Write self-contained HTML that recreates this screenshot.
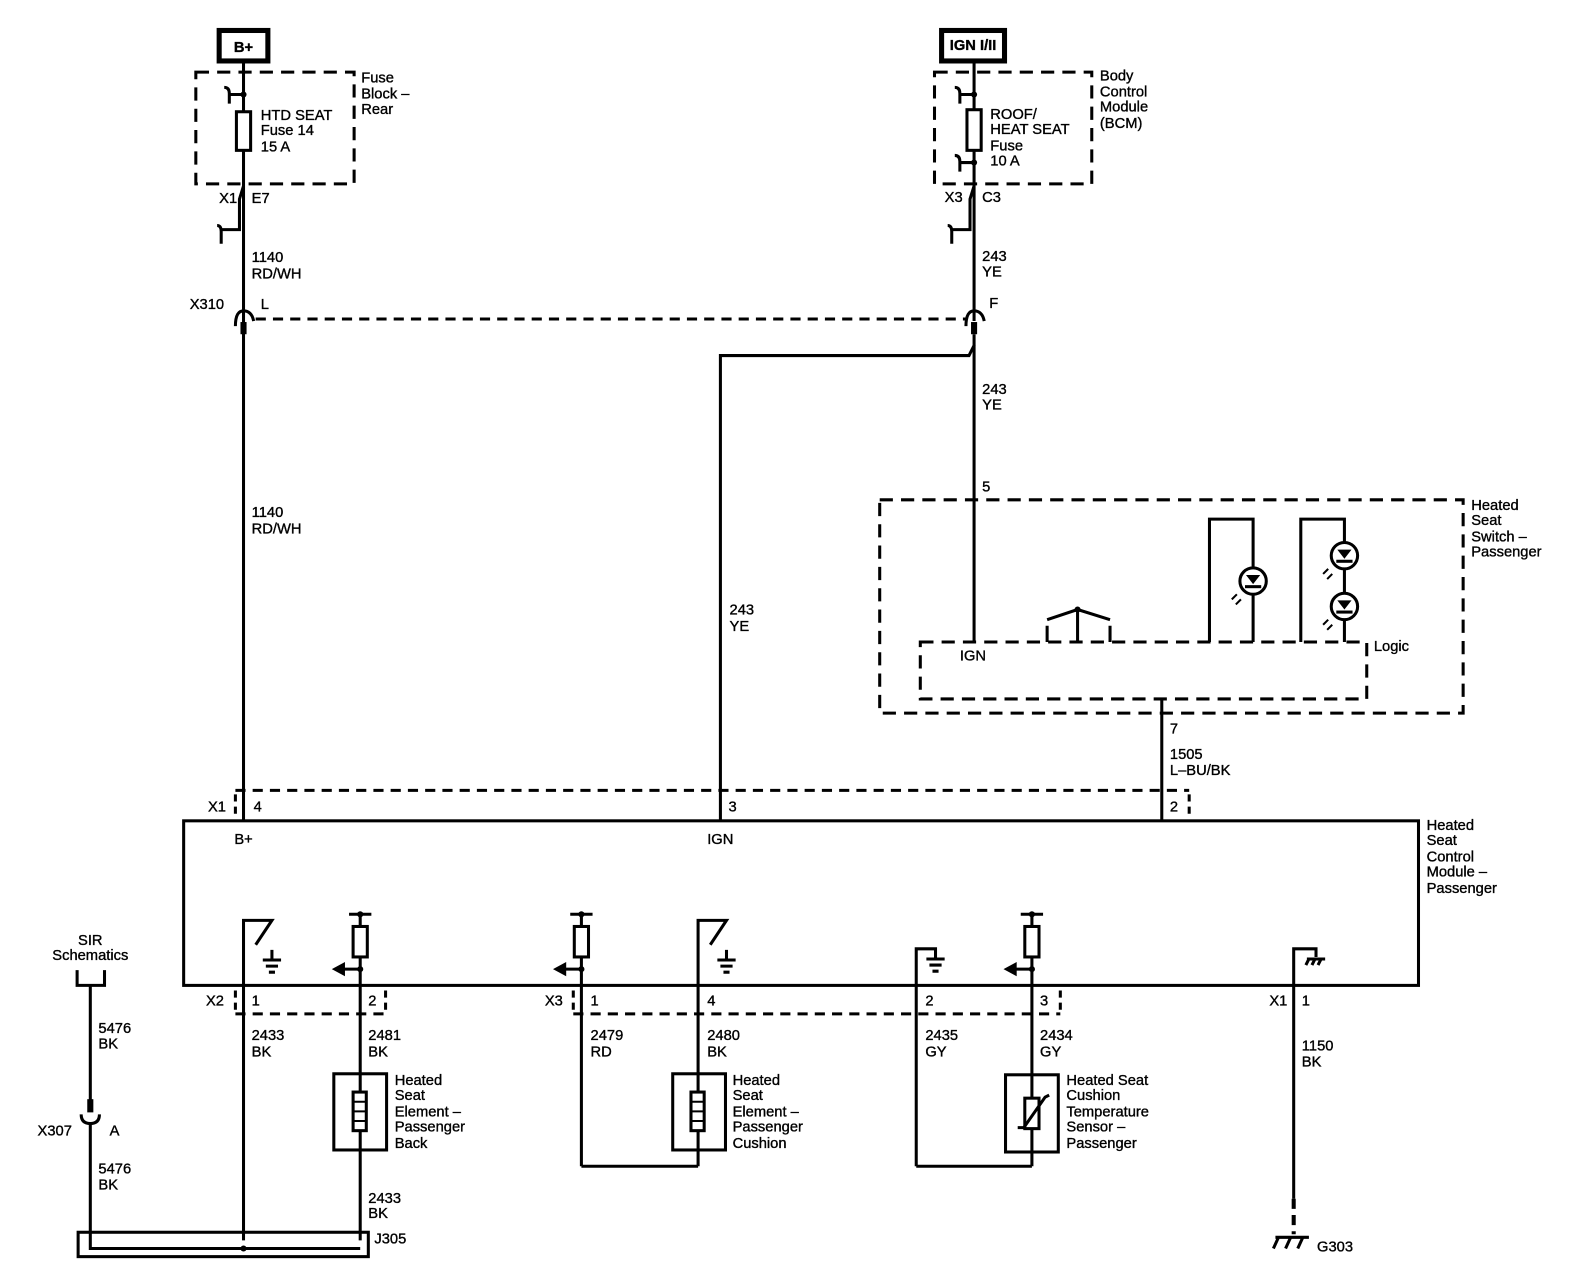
<!DOCTYPE html>
<html><head><meta charset="utf-8"><style>
html,body{margin:0;padding:0;background:#fff;}
svg{display:block;}
text{font-family:"Liberation Sans",Arial,sans-serif;font-size:14.5px;fill:#000;stroke:#000;stroke-width:0.35px;}
</style></head><body>
<svg width="1592" height="1280" viewBox="0 0 1569 1260" preserveAspectRatio="none" xmlns="http://www.w3.org/2000/svg">
<g fill="none" stroke="#000" stroke-width="3">
<rect x="216" y="30" width="48" height="30" stroke-width="5"/>
<line x1="240" y1="60" x2="240" y2="808"/>
<rect x="193" y="71" width="156" height="110" stroke-dasharray="13 8"/>
<rect x="233" y="110" width="14" height="38" fill="#fff"/>
<path d="M240 93 H226 M221 86 Q226 86 226 92 V102"/>
<path d="M240 183 L236 196 V226 H218 M214 222 Q218 222 218 228 V240"/>
<path d="M232 321 Q232 306 240 306 Q248 306 250 316"/>
<rect x="237" y="317" width="6" height="12" fill="#000" stroke="none"/>
<line x1="252" y1="314" x2="952" y2="314" stroke-dasharray="10 7"/>
<rect x="928" y="30" width="62" height="30" stroke-width="5"/>
<line x1="960" y1="60" x2="960" y2="316"/>
<rect x="921" y="71" width="155" height="110" stroke-dasharray="13 8"/>
<rect x="953" y="108" width="14" height="40" fill="#fff"/>
<path d="M960 93 H946 M941 86 Q946 86 946 92 V102"/>
<path d="M960 160 H946 M941 153 Q946 153 946 159 V169"/>
<path d="M960 183 L956 196 V226 H938 M934 222 Q938 222 938 228 V240"/>
<path d="M952 321 Q952 306 960 306 Q968 306 970 316"/>
<rect x="957" y="317" width="6" height="12" fill="#000" stroke="none"/>
<path d="M960 329 V340 L955 350 H710 V808"/>
<line x1="960" y1="340" x2="960" y2="632"/>
<rect x="867" y="492" width="575" height="210" stroke-dasharray="13 8"/>
<rect x="907" y="632" width="440" height="56" stroke-dasharray="13 8"/>
<path d="M1032 632 V616 M1094 632 V616 M1062 632 V600 M1032 610 L1062 600 L1094 610"/>
<path d="M1192 632 V511 H1235 V632"/>
<path d="M1282 632 V511 H1325 V632"/>
<circle cx="1235" cy="572" r="13" fill="#fff"/>
<circle cx="1325" cy="547" r="13" fill="#fff"/>
<circle cx="1325" cy="597" r="13" fill="#fff"/>
<path d="M1219 585 l-5 5 M1223 590 l-5 5 M1309 560 l-5 5 M1313 565 l-5 5 M1309 610 l-5 5 M1313 615 l-5 5" stroke-width="2"/>
<line x1="1145" y1="688" x2="1145" y2="808"/>
<path d="M232 782 V805 M1172 782 V805" stroke-dasharray="7 5"/>
<line x1="232" y1="778" x2="1172" y2="778" stroke-dasharray="10 7"/>
<rect x="181" y="808" width="1217" height="162"/>
<path d="M240 1221 V906 H268 L252 930"/>
<path d="M688 1148 V906 H716 L700 930"/>
<path d="M355 1221 V900 M344 900 H366"/>
<path d="M573 1148 V900 M562 900 H584"/>
<path d="M1017 1148 V900 M1006 900 H1028"/>
<rect x="348" y="912" width="14" height="30" fill="#fff"/>
<rect x="566" y="912" width="14" height="30" fill="#fff"/>
<rect x="1010" y="912" width="14" height="30" fill="#fff"/>
<path d="M355 954 H338 M573 954 H556 M1017 954 H1000"/>
<path d="M268 935 V945 M259 945 H277 M262 951 H274 M265 957 H271"/>
<path d="M716 935 V945 M707 945 H725 M710 951 H722 M713 957 H719"/>
<path d="M903 1148 V934 H922 V944 M913 944 H931 M916 950 H928 M919 956 H925"/>
<path d="M903 1148 H1017 M573 1148 H688"/>
<path d="M1275 1180 V934 H1297 V942 M1288 944 H1306 M1290 944 l-3 6 M1296 944 l-3 6 M1302 944 l-3 6"/>
<line x1="1275" y1="1180" x2="1275" y2="1215" stroke-dasharray="10 6" stroke-width="4"/>
<path d="M1257 1218 H1290 M1260 1218 l-5 11 M1272 1218 l-5 11 M1284 1218 l-5 11"/>
<path d="M232 975 V998 M380 975 V998 M565 975 V998 M1045 975 V998" stroke-dasharray="7 5"/>
<line x1="232" y1="998" x2="380" y2="998" stroke-dasharray="10 7"/>
<line x1="565" y1="998" x2="1045" y2="998" stroke-dasharray="10 7"/>
<rect x="329" y="1057" width="52" height="75" fill="#fff"/>
<line x1="355" y1="1057" x2="355" y2="1132"/>
<rect x="348" y="1075" width="13" height="38" fill="#fff"/>
<path d="M348 1084.5 H361 M348 1094 H361 M348 1103.5 H361" stroke-width="2"/>
<rect x="663" y="1057" width="52" height="75" fill="#fff"/>
<line x1="688" y1="1057" x2="688" y2="1132"/>
<rect x="681" y="1075" width="13" height="38" fill="#fff"/>
<path d="M681 1084.5 H694 M681 1094 H694 M681 1103.5 H694" stroke-width="2"/>
<rect x="991" y="1058" width="52" height="76"/>
<rect x="1010" y="1081" width="14" height="30" fill="#fff"/>
<path d="M1003 1110 H1009 L1030 1080 L1034 1078"/>
<path d="M76 955 V970 H103 V955"/>
<line x1="89" y1="970" x2="89" y2="1084"/>
<rect x="86" y="1082" width="6" height="13" fill="#000" stroke="none"/>
<path d="M80 1097 Q80 1106 89 1106 Q98 1106 98 1097"/>
<path d="M89 1106 V1229 H355"/>
<rect x="77" y="1213" width="286" height="24"/>
</g>
<g fill="#000">
<circle cx="240" cy="93" r="3"/>
<circle cx="960" cy="93" r="3"/><circle cx="960" cy="160" r="3"/>
<circle cx="355" cy="900" r="3"/><circle cx="573" cy="900" r="3"/><circle cx="1017" cy="900" r="3"/>
<circle cx="355" cy="954" r="3"/><circle cx="573" cy="954" r="3"/><circle cx="1017" cy="954" r="3"/>
<circle cx="1062" cy="600" r="3"/>
<circle cx="240" cy="1229" r="3"/>
<polygon points="327,954 340,947 340,961"/><polygon points="545,954 558,947 558,961"/><polygon points="989,954 1002,947 1002,961"/>
<polygon points="1228,566 1242,566 1235,575"/><rect x="1227" y="576" width="16" height="3"/>
<polygon points="1318,541 1332,541 1325,550"/><rect x="1317" y="551" width="16" height="3"/>
<polygon points="1318,591 1332,591 1325,600"/><rect x="1317" y="601" width="16" height="3"/>
</g>
<g>
<text x="240" y="51" text-anchor="middle" font-weight="bold">B+</text>
<text x="356" y="81">Fuse</text><text x="356" y="97">Block –</text><text x="356" y="112">Rear</text>
<text x="257" y="118">HTD SEAT</text><text x="257" y="133">Fuse 14</text><text x="257" y="149">15 A</text>
<text x="216" y="200">X1</text><text x="248" y="200">E7</text>
<text x="248" y="258">1140</text><text x="248" y="274">RD/WH</text>
<text x="187" y="304">X310</text><text x="257" y="304">L</text>
<text x="959" y="49" text-anchor="middle" font-weight="bold">IGN I/II</text>
<text x="1084" y="79">Body</text><text x="1084" y="95">Control</text><text x="1084" y="110">Module</text><text x="1084" y="126">(BCM)</text>
<text x="976" y="117">ROOF/</text><text x="976" y="132">HEAT SEAT</text><text x="976" y="148">Fuse</text><text x="976" y="163">10 A</text>
<text x="931" y="199">X3</text><text x="968" y="199">C3</text>
<text x="968" y="257">243</text><text x="968" y="272">YE</text>
<text x="975" y="303">F</text>
<text x="968" y="388">243</text><text x="968" y="403">YE</text>
<text x="248" y="509">1140</text><text x="248" y="525">RD/WH</text>
<text x="719" y="605">243</text><text x="719" y="621">YE</text>
<text x="968" y="484">5</text>
<text x="946" y="650">IGN</text>
<text x="1354" y="641">Logic</text>
<text x="1450" y="502">Heated</text><text x="1450" y="517">Seat</text><text x="1450" y="533">Switch –</text><text x="1450" y="548">Passenger</text>
<text x="1153" y="722">7</text><text x="1153" y="747">1505</text><text x="1153" y="763">L–BU/BK</text>
<text x="205" y="799">X1</text><text x="250" y="799">4</text><text x="718" y="799">3</text><text x="1153" y="799">2</text>
<text x="231" y="831">B+</text><text x="697" y="831">IGN</text>
<text x="1406" y="817">Heated</text><text x="1406" y="832">Seat</text><text x="1406" y="848">Control</text><text x="1406" y="863">Module –</text><text x="1406" y="879">Passenger</text>
<text x="89" y="930" text-anchor="middle">SIR</text><text x="89" y="945" text-anchor="middle">Schematics</text>
<text x="203" y="990">X2</text><text x="248" y="990">1</text><text x="363" y="990">2</text>
<text x="537" y="990">X3</text><text x="582" y="990">1</text><text x="697" y="990">4</text><text x="912" y="990">2</text><text x="1025" y="990">3</text>
<text x="1251" y="990">X1</text><text x="1283" y="990">1</text>
<text x="248" y="1024">2433</text><text x="248" y="1040">BK</text>
<text x="363" y="1024">2481</text><text x="363" y="1040">BK</text>
<text x="582" y="1024">2479</text><text x="582" y="1040">RD</text>
<text x="697" y="1024">2480</text><text x="697" y="1040">BK</text>
<text x="912" y="1024">2435</text><text x="912" y="1040">GY</text>
<text x="1025" y="1024">2434</text><text x="1025" y="1040">GY</text>
<text x="1283" y="1034">1150</text><text x="1283" y="1050">BK</text>
<text x="97" y="1017">5476</text><text x="97" y="1032">BK</text>
<text x="37" y="1118">X307</text><text x="108" y="1118">A</text>
<text x="97" y="1155">5476</text><text x="97" y="1171">BK</text>
<text x="389" y="1068">Heated</text><text x="389" y="1083">Seat</text><text x="389" y="1099">Element –</text><text x="389" y="1114">Passenger</text><text x="389" y="1130">Back</text>
<text x="722" y="1068">Heated</text><text x="722" y="1083">Seat</text><text x="722" y="1099">Element –</text><text x="722" y="1114">Passenger</text><text x="722" y="1130">Cushion</text>
<text x="1051" y="1068">Heated Seat</text><text x="1051" y="1083">Cushion</text><text x="1051" y="1099">Temperature</text><text x="1051" y="1114">Sensor –</text><text x="1051" y="1130">Passenger</text>
<text x="363" y="1184">2433</text><text x="363" y="1199">BK</text>
<text x="369" y="1224">J305</text>
<text x="1298" y="1232">G303</text>
</g>
</svg>
</body></html>
